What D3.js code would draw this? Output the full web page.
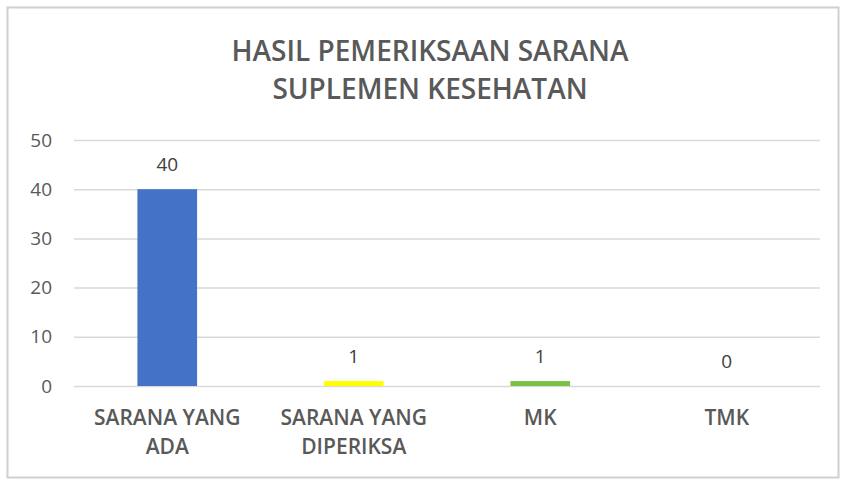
<!DOCTYPE html>
<html>
<head>
<meta charset="utf-8">
<script src="https://cdn.jsdelivr.net/npm/d3@7"></script>
<style>
  body { margin: 0; background: #fff; }
  svg text { font-family: "Open Sans", "Liberation Sans", sans-serif; }
</style>
</head>
<body>
<svg id="chart" width="845" height="485"></svg>
<script>
var categories = [["SARANA YANG", "ADA"], ["SARANA YANG", "DIPERIKSA"], ["MK"], ["TMK"]];
var values = [40, 1, 1, 0];
var colors = ["#4472c4", "#ffff00", "#7ac143", "#a5a5a5"];
var yTicks = [0, 10, 20, 30, 40, 50];
var titleLines = ["HASIL PEMERIKSAAN SARANA", "SUPLEMEN KESEHATAN"];

var w = 845, h = 485;
var margin = {top: 140, right: 25, bottom: 99, left: 74};

var svg = d3.select("#chart");

// frame
svg.append("rect")
  .attr("x", 7.5).attr("y", 7.5)
  .attr("width", 831).attr("height", 470)
  .attr("fill", "#fff")
  .attr("stroke", "#d0d0d0")
  .attr("stroke-width", 2);

var idx = d3.range(values.length);

var x = d3.scaleBand()
  .domain(idx)
  .range([margin.left, w - margin.right])
  .paddingInner(0.68)
  .paddingOuter(0.34);

var y = d3.scaleLinear()
  .domain([0, 50])
  .range([h - margin.bottom, margin.top]);

// title
svg.append("g").selectAll("text")
  .data(titleLines)
  .enter().append("text")
  .attr("x", 430)
  .attr("y", function(d, i) { return 61 + i * 38; })
  .attr("text-anchor", "middle")
  .attr("font-size", 28)
  .attr("font-weight", 600)
  .attr("fill", "#595959")
  .text(function(d) { return d; });

// gridlines + y labels
var yAxis = svg.append("g")
  .attr("transform", "translate(" + margin.left + ",0)")
  .call(d3.axisLeft(y).tickValues(yTicks)
    .tickSize(-(w - margin.left - margin.right))
    .tickPadding(22));
yAxis.select(".domain").remove();
yAxis.selectAll(".tick line").attr("stroke", "#d9d9d9").attr("stroke-width", 1.5);
yAxis.selectAll(".tick text")
  .attr("font-size", 19)
  .attr("fill", "#595959");

// bars
svg.append("g").selectAll("rect")
  .data(values)
  .enter().append("rect")
  .attr("x", function(d, i) { return x(i); })
  .attr("y", function(d) { return y(d); })
  .attr("width", x.bandwidth())
  .attr("height", function(d) { return y(0) - y(d); })
  .attr("fill", function(d, i) { return colors[i]; });

// data labels
svg.append("g").selectAll("text")
  .data(values)
  .enter().append("text")
  .attr("x", function(d, i) { return x(i) + x.bandwidth() / 2; })
  .attr("y", function(d) { return y(d) - 18; })
  .attr("text-anchor", "middle")
  .attr("font-size", 19)
  .attr("fill", "#404040")
  .text(function(d) { return d; });

// category labels
var cat = svg.append("g").selectAll("text")
  .data(categories)
  .enter().append("text")
  .attr("text-anchor", "middle")
  .attr("font-size", 21)
  .attr("font-weight", 600)
  .attr("fill", "#595959");
cat.selectAll("tspan")
  .data(function(d, i) { return d.map(function(s) { return {s: s, i: i}; }); })
  .enter().append("tspan")
  .attr("x", function(d) { return x(d.i) + x.bandwidth() / 2; })
  .attr("y", function(d, j) { return 425 + j * 29; })
  .text(function(d) { return d.s; });
</script>
</body>
</html>
